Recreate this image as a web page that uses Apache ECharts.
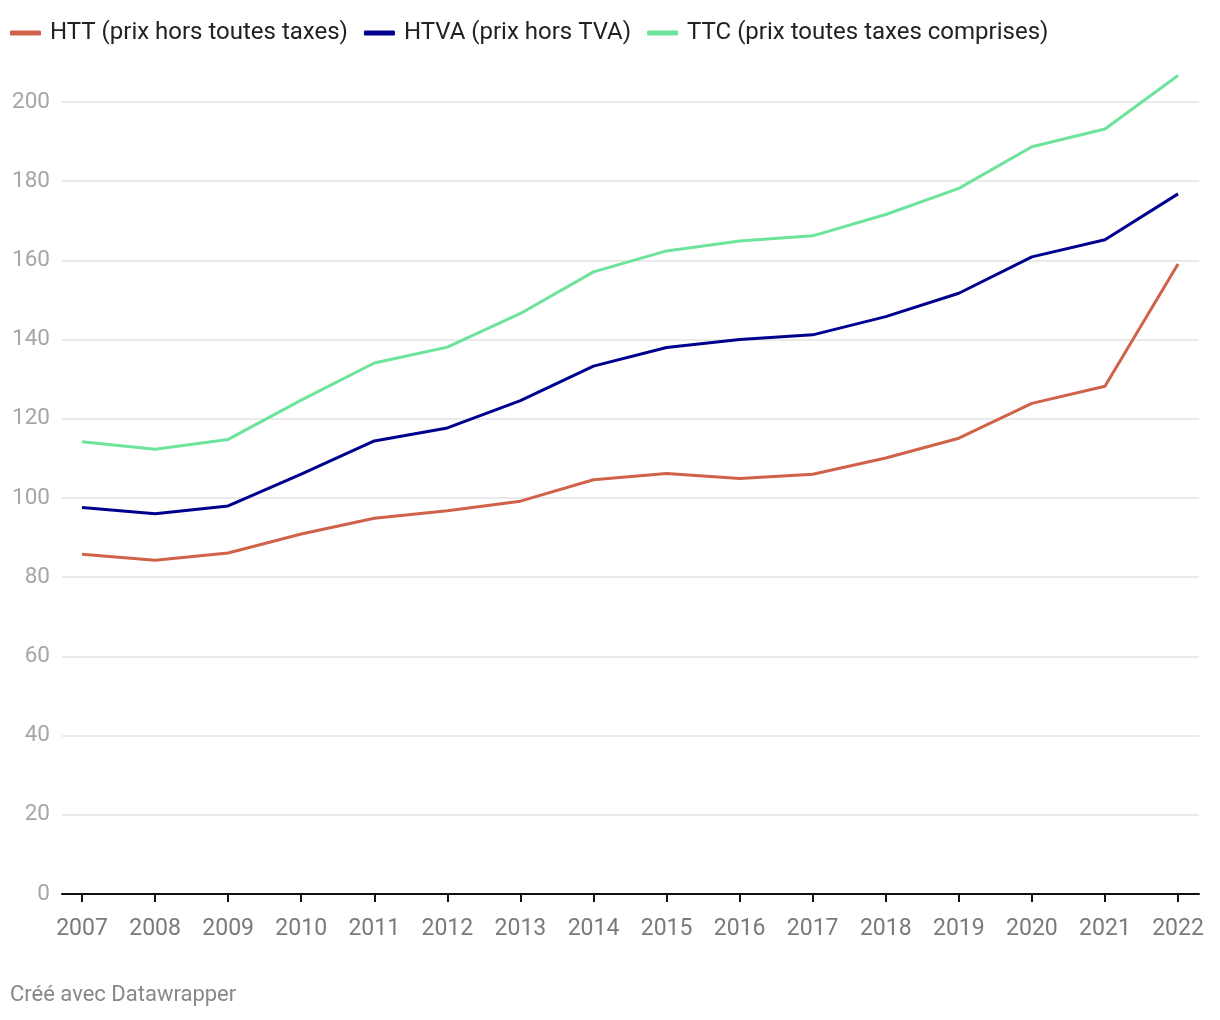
<!DOCTYPE html>
<html>
<head>
<meta charset="utf-8">
<script src="https://cdn.jsdelivr.net/npm/echarts@6/dist/echarts.min.js"></script>
<style>
html,body{margin:0;padding:0;background:#fff;}
#chart{width:1220px;height:1020px;}
</style>
</head>
<body>
<div id="chart"></div>
<script>
const years = [2007,2008,2009,2010,2011,2012,2013,2014,2015,2016,2017,2018,2019,2020,2021,2022];
const htt  = [85.8,84.3,86.1,90.9,94.9,96.8,99.2,104.6,106.2,104.9,106.0,110.1,115.1,123.9,128.2,159.1];
const htva = [97.6,96.0,98.0,106.0,114.4,117.7,124.6,133.3,138.0,140.0,141.2,145.8,151.7,160.9,165.2,176.8];
const ttc  = [114.2,112.3,114.8,124.7,134.1,138.1,146.6,157.1,162.4,164.9,166.2,171.6,178.2,188.7,193.2,206.7];
const seriesNames = ['HTT (prix hors toutes taxes)','HTVA (prix hors TVA)','TTC (prix toutes taxes comprises)'];
const colors = ['#d0624a','#00008f','#6de39b'];

const pairs = arr => years.map((y,i)=>[y,arr[i]]);
const chart = echarts.init(document.getElementById('chart'), null, {renderer:'canvas'});
const font = 'Roboto, "Noto Sans", sans-serif';
chart.setOption({
  animation:false,
  color: colors,
  legend: {
    left: 10, top: 21, padding: 0,
    itemWidth: 31, itemHeight: 5, itemGap: 16,
    icon: 'roundRect',
    textStyle: {fontFamily: font, fontSize: 24, color: '#222', padding:[0,0,0,4]},
    data: seriesNames
  },
  grid: {left: 62, right: 21, top: 102, bottom: 126},
  xAxis: {
    type: 'value', min: 2006.726, max: 2022.287,
    axisLine: {show: true, lineStyle: {color: '#111', width: 2}},
    axisTick: {show: true, length: 8, lineStyle: {color: '#111', width: 2}, customValues: years},
    axisLabel: {customValues: years, fontFamily: font, fontSize: 23, color: '#7a7a7a', margin: 24,
      formatter: v => String(Math.round(v))},
    splitLine: {show: false}
  },
  yAxis: {
    type: 'value', min: 0, max: 200, interval: 20,
    axisLine: {show: false}, axisTick: {show: false},
    axisLabel: {fontFamily: font, fontSize: 22.5, color: '#a6a6a6', margin: 12},
    splitLine: {lineStyle: {color: '#e3e3e3', width: 1.5}}
  },
  series: [
    {name: seriesNames[0], type:'line', data: pairs(htt), symbol:'none', clip:false, lineStyle:{width:3}},
    {name: seriesNames[1], type:'line', data: pairs(htva), symbol:'none', clip:false, lineStyle:{width:3}},
    {name: seriesNames[2], type:'line', data: pairs(ttc), symbol:'none', clip:false, lineStyle:{width:3}}
  ],
  graphic: [{
    type:'text', left: 10, top: 984,
    style:{text:'Créé avec Datawrapper', font:'22px Roboto, sans-serif', fill:'#888'}
  }]
});
</script>
</body>
</html>
